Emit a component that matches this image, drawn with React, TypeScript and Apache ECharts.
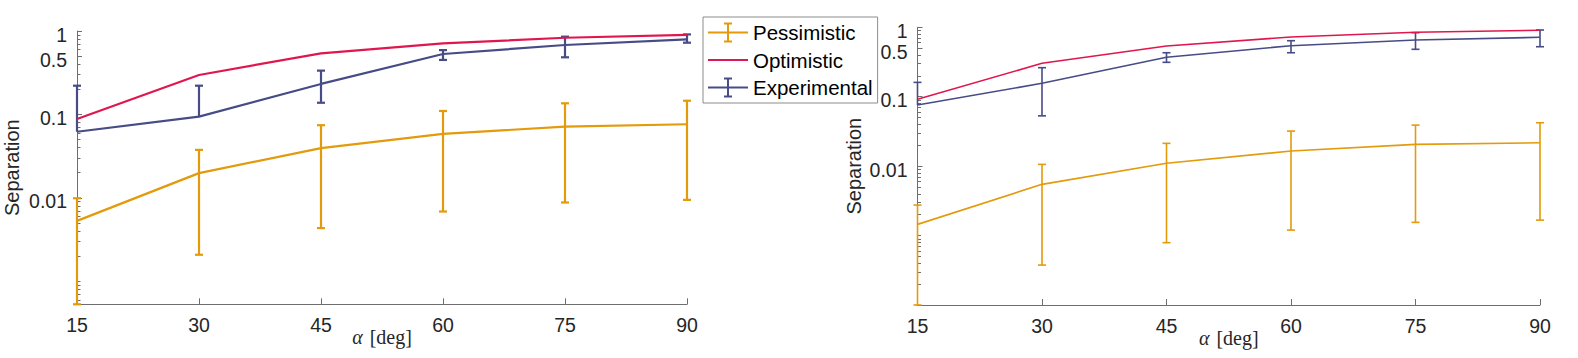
import React, { useEffect, useRef } from "react";
import * as echarts from "echarts";

// ---- data ----
const alphas = [15, 30, 45, 60, 75, 90];

const leftPessMean = [0.0053, 0.0198, 0.0394, 0.0584, 0.0715, 0.0763];
const leftPessLow = [0.00053, 0.00208, 0.00434, 0.00686, 0.0088, 0.00946];
const leftPessHigh = [0.0099, 0.0376, 0.0743, 0.11, 0.136, 0.146];
const leftOpt = [0.088, 0.297, 0.54, 0.71, 0.83, 0.9];
const leftExpMean = [0.062, 0.094, 0.232, 0.53, 0.68, 0.795];
const leftExpLow: (number | null)[] = [null, null, 0.138, 0.45, 0.484, 0.724];
const leftExpHigh = [0.221, 0.221, 0.335, 0.59, 0.855, 0.91];

const rightPessMean = [0.00145, 0.00547, 0.011, 0.0165, 0.0206, 0.0217];
const rightPessLow = [0.0001, 0.000376, 0.00079, 0.0012, 0.00155, 0.00167];
const rightPessHigh = [0.00275, 0.0106, 0.0213, 0.032, 0.039, 0.0422];
const rightOpt = [0.092, 0.303, 0.538, 0.725, 0.847, 0.905];
const rightExpMean = [0.076, 0.156, 0.37, 0.543, 0.656, 0.718];
const rightExpLow: (number | null)[] = [null, 0.053, 0.313, 0.43, 0.482, 0.525];
const rightExpHigh = [0.161, 0.262, 0.43, 0.641, 0.836, 0.914];

const yTickValues = [0.01, 0.1, 0.5, 1];
const yTickLabels = ["0.01", "0.1", "0.5", "1"];
const xTickValues = [15, 30, 45, 60, 75, 90];
const seriesNames = ["Pessimistic", "Optimistic", "Experimental"];
const leftYMin = 0.00053;
const rightYMin = 0.0001;
const yMax = 1;

// ---- styles ----
const C_PESS = "#E39A0B";
const C_OPT = "#E0174E";
const C_EXP = "#474C87";
const AXIS_C = "#6e6e6e";
const TEXT_C = "#262626";
const SANS = "Liberation Sans, Arial, sans-serif";
const SERIF = "Liberation Serif, Times New Roman, serif";

function minorTicks(min: number, max: number): number[] {
  const out: number[] = [];
  for (let e = -6; e <= 0; e++) {
    for (let m = 1; m <= 9; m++) {
      const v = parseFloat((m * Math.pow(10, e)).toPrecision(6));
      if (v >= min && v <= max && !yTickValues.includes(v)) out.push(v);
    }
  }
  return out;
}

function fmtY(v: number): string {
  let best = 0;
  for (let i = 0; i < yTickValues.length; i++) {
    if (Math.abs(Math.log10(v) - Math.log10(yTickValues[i])) < Math.abs(Math.log10(v) - Math.log10(yTickValues[best]))) best = i;
  }
  return yTickLabels[best];
}

function errRender(lows: (number | null)[], highs: number[], color: string, lw: number, capHalf: number) {
  return (params: any, api: any) => {
    const i = params.dataIndex;
    const x = api.value(0);
    const m = api.value(1);
    const lo = lows[i];
    const hi = highs[i];
    const pHi = api.coord([x, hi]);
    const pLo = api.coord([x, lo == null ? m : lo]);
    const st = { stroke: color, lineWidth: lw };
    const children: any[] = [
      { type: "line", shape: { x1: pHi[0], y1: pHi[1], x2: pLo[0], y2: pLo[1] }, style: st },
      { type: "line", shape: { x1: pHi[0] - capHalf, y1: pHi[1], x2: pHi[0] + capHalf, y2: pHi[1] }, style: st },
    ];
    if (lo != null) {
      children.push({ type: "line", shape: { x1: pLo[0] - capHalf, y1: pLo[1], x2: pLo[0] + capHalf, y2: pLo[1] }, style: st });
    }
    return { type: "group", children };
  };
}

function pairs(vals: number[]) {
  return alphas.map((a, i) => [a, vals[i]]);
}

function makeAxes(gridIndex: number, yMin: number, nameGapY: number) {
  const x = {
    type: "value",
    gridIndex,
    min: 15,
    max: 90,
    interval: 15,
    axisLine: { show: true, lineStyle: { color: AXIS_C, width: 1 } },
    axisTick: { show: true, inside: true, length: 6, lineStyle: { color: AXIS_C } },
    axisLabel: { color: TEXT_C, fontSize: 19.5, fontFamily: SANS, margin: 11, customValues: xTickValues },
    splitLine: { show: false },
    name: "{a|α}{b|[deg]}",
    nameLocation: "middle",
    nameGap: 23,
    nameMoveOverlap: false,
    nameTextStyle: {
      color: TEXT_C,
      rich: {
        a: { fontFamily: SERIF, fontStyle: "italic", fontSize: 20, color: TEXT_C, padding: [0, 7, 0, 0] },
        b: { fontFamily: SERIF, fontSize: 20, color: TEXT_C },
      },
    },
  };
  const yMajor = {
    type: "log",
    logBase: 10,
    gridIndex,
    position: "left",
    min: yMin,
    max: yMax,
    axisLine: { show: true, lineStyle: { color: AXIS_C, width: 1 } },
    axisTick: { show: true, inside: true, length: 5, lineStyle: { color: AXIS_C }, customValues: yTickValues },
    axisLabel: {
      color: TEXT_C,
      fontSize: 19.5,
      fontFamily: SANS,
      margin: 10,
      customValues: yTickValues,
      formatter: (v: number) => fmtY(v),
      verticalAlign: "top",
      lineHeight: 7,
    },
    splitLine: { show: false },
    name: "Separation",
    nameLocation: "middle",
    nameGap: nameGapY,
    nameMoveOverlap: false,
    nameTextStyle: { color: TEXT_C, fontSize: 20, fontFamily: SANS },
  };
  const yMinor = {
    type: "log",
    logBase: 10,
    gridIndex,
    position: "left",
    offset: 0,
    min: yMin,
    max: yMax,
    axisLine: { show: false },
    axisTick: { show: true, inside: true, length: 3.5, lineStyle: { color: AXIS_C }, customValues: minorTicks(yMin, yMax) },
    axisLabel: { show: false },
    splitLine: { show: false },
  };
  return { x, yMajor, yMinor };
}

function makeSeries(
  xAxisIndex: number,
  yAxisIndex: number,
  lw: number,
  pMean: number[], pLow: (number | null)[], pHigh: number[],
  opt: number[],
  eMean: number[], eLow: (number | null)[], eHigh: number[]
) {
  const line = (name: string, data: number[], color: string) => ({
    type: "line",
    name,
    xAxisIndex,
    yAxisIndex,
    data: pairs(data),
    showSymbol: false,
    symbol: "none",
    lineStyle: { color, width: lw },
    itemStyle: { color },
    z: 3,
  });
  const err = (name: string, mean: number[], lows: (number | null)[], highs: number[], color: string) => ({
    type: "custom",
    name,
    xAxisIndex,
    yAxisIndex,
    data: pairs(mean),
    encode: { x: 0, y: 1 },
    renderItem: errRender(lows, highs, color, lw, 4),
    itemStyle: { color },
    z: 3,
  });
  return [
    line(seriesNames[0], pMean, C_PESS),
    err(seriesNames[0], pMean, pLow, pHigh, C_PESS),
    line(seriesNames[1], opt, C_OPT),
    line(seriesNames[2], eMean, C_EXP),
    err(seriesNames[2], eMean, eLow, eHigh, C_EXP),
  ];
}

const ERR_ICON = "path://M0,9H40V11H0Z M19,1H21V19H19Z M16,0H24V2H16Z M16,18H24V20H16Z";
const LINE_ICON = "path://M0,9H40V11H0Z";

export default function App() {
  const ref = useRef<HTMLDivElement>(null);
  useEffect(() => {
    if (!ref.current) return;
    const chart = echarts.init(ref.current, null, { renderer: "svg" });
    const L = makeAxes(0, leftYMin, 55);
    const R = makeAxes(1, rightYMin, 54);
    const option: any = {
      animation: false,
      backgroundColor: "#ffffff",
      grid: [
        { left: 77, top: 31, width: 610, height: 273.3, containLabel: false, outerBoundsMode: "none" },
        { left: 917.5, top: 27.3, width: 622.5, height: 277.7, containLabel: false, outerBoundsMode: "none" },
      ],
      xAxis: [L.x, R.x],
      yAxis: [L.yMajor, L.yMinor, R.yMajor, R.yMinor],
      legend: {
        orient: "vertical",
        left: 703,
        top: 17,
        itemWidth: 40,
        itemHeight: 20,
        itemGap: 6.5,
        padding: [5, 5, 5, 5],
        borderColor: "#8c8c8c",
        borderWidth: 1,
        borderRadius: 0,
        backgroundColor: "#ffffff",
        selectedMode: false,
        textStyle: { color: "#000", fontSize: 20.5, fontFamily: SANS },
        data: [
          { name: seriesNames[0], icon: ERR_ICON, itemStyle: { color: C_PESS } },
          { name: seriesNames[1], icon: LINE_ICON, itemStyle: { color: C_OPT } },
          { name: seriesNames[2], icon: ERR_ICON, itemStyle: { color: C_EXP } },
        ],
      },
      series: [
        ...makeSeries(0, 0, 2.2, leftPessMean, leftPessLow, leftPessHigh, leftOpt, leftExpMean, leftExpLow, leftExpHigh),
        ...makeSeries(1, 2, 1.6, rightPessMean, rightPessLow, rightPessHigh, rightOpt, rightExpMean, rightExpLow, rightExpHigh),
      ],
    };
    chart.setOption(option);
    return () => chart.dispose();
  }, []);
  return (
    <div
      ref={ref}
      style={{ position: "absolute", left: 0, top: 0, width: 1578, height: 358, background: "#fff" }}
    />
  );
}
